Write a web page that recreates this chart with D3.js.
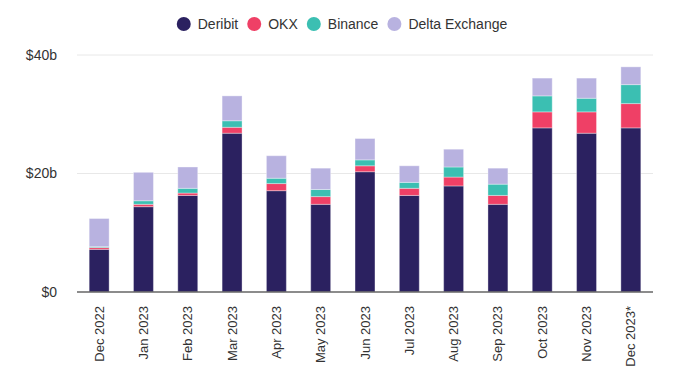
<!DOCTYPE html>
<html>
<head>
<meta charset="utf-8">
<script src="https://cdn.jsdelivr.net/npm/d3@7"></script>
<style>
  body { margin: 0; background: #fff; }
  text { font-family: "Liberation Sans", Arial, sans-serif; fill: #333; }
</style>
</head>
<body>
<svg id="chart"></svg>
<script>
var months = ['Dec 2022','Jan 2023','Feb 2023','Mar 2023','Apr 2023','May 2023','Jun 2023',
              'Jul 2023','Aug 2023','Sep 2023','Oct 2023','Nov 2023','Dec 2023*']
var exchanges = ['Deribit','OKX','Binance','Delta Exchange']
var colors = ['#2b2160','#ef4066','#3bbfb2','#b8b2e0']

// volumes in $b
var deribit = [7.2,14.4,16.3,26.8,17.1,14.8,20.3,16.3,17.9,14.8,27.7,26.8,27.7]
var okx     = [0.3,0.4,0.4,1.0,1.2,1.3,1.0,1.2,1.5,1.5,2.7,3.6,4.1]
var binance = [0.15,0.6,0.8,1.1,0.9,1.2,1.0,1.0,1.7,1.9,2.7,2.3,3.2]
var delta   = [4.75,4.8,3.6,4.2,3.8,3.6,3.6,2.8,3.0,2.7,3.0,3.4,3.0]
var yTicks = [0,20,40]

var screen = {width:680, height:376}
var margins = {top:55, bottom:84, left:77, right:27}
var width = screen.width - margins.left - margins.right
var height = screen.height - margins.top - margins.bottom

var rows = months.map(function(m,i){
  return {month:m, 'Deribit':deribit[i], 'OKX':okx[i], 'Binance':binance[i], 'Delta Exchange':delta[i]}
})
var series = d3.stack().keys(exchanges)(rows)

var svg = d3.select('#chart')
  .attr('width',screen.width)
  .attr('height',screen.height)

var xScale = d3.scaleBand()
  .domain(months)
  .range([0,width])
  .paddingInner(0.55)
  .paddingOuter(0.275)

var yScale = d3.scaleLinear()
  .domain([0,40])
  .range([height,0])

var plot = svg.append('g')
  .attr('transform','translate('+margins.left+','+margins.top+')')

// gridlines
plot.selectAll('.grid')
  .data(yTicks.filter(function(d){return d>0}))
  .enter()
  .append('line')
  .attr('x1',0).attr('x2',width)
  .attr('y1',function(d){return yScale(d)})
  .attr('y2',function(d){return yScale(d)})
  .attr('stroke','#e8e8e8')
  .attr('stroke-width',1)

// y labels
plot.selectAll('.ylab')
  .data(yTicks)
  .enter()
  .append('text')
  .attr('x',-20)
  .attr('y',function(d){return yScale(d)})
  .attr('dy','0.35em')
  .attr('text-anchor','end')
  .attr('font-size','14px')
  .text(function(d){return '$'+d+(d>0?'b':'')})

// bars
plot.selectAll('.layer')
  .data(series)
  .enter()
  .append('g')
  .attr('fill',function(d,i){return colors[i]})
  .selectAll('rect')
  .data(function(d){return d})
  .enter()
  .append('rect')
  .attr('x',function(d){return xScale(d.data.month)})
  .attr('y',function(d){return yScale(d[1])})
  .attr('width',xScale.bandwidth())
  .attr('height',function(d){return yScale(d[0])-yScale(d[1])})
  .attr('stroke','#fff')
  .attr('stroke-opacity',0.35)
  .attr('stroke-width',1)

// x axis
plot.append('line')
  .attr('x1',0).attr('x2',width)
  .attr('y1',height).attr('y2',height)
  .attr('stroke','#666')
  .attr('stroke-width',1.5)

plot.selectAll('.xlab')
  .data(months)
  .enter()
  .append('text')
  .attr('transform',function(d){
    return 'translate('+(xScale(d)+xScale.bandwidth()/2)+','+(height+14)+') rotate(-90)'})
  .attr('dy','0.35em')
  .attr('text-anchor','end')
  .attr('font-size','13px')
  .text(function(d){return d})

// legend
var legend = svg.append('g')
var lx = 0
exchanges.forEach(function(name,i){
  var item = legend.append('g').attr('transform','translate('+lx+',0)')
  item.append('circle').attr('cx',7).attr('cy',0).attr('r',7).attr('fill',colors[i])
  var t = item.append('text').attr('x',21).attr('y',0).attr('dy','0.35em')
    .attr('font-size','14px').text(name)
  lx += 21 + t.node().getComputedTextLength() + 9
})
lx -= 9
legend.attr('transform','translate('+(342-lx/2)+',24)')
</script>
</body>
</html>
